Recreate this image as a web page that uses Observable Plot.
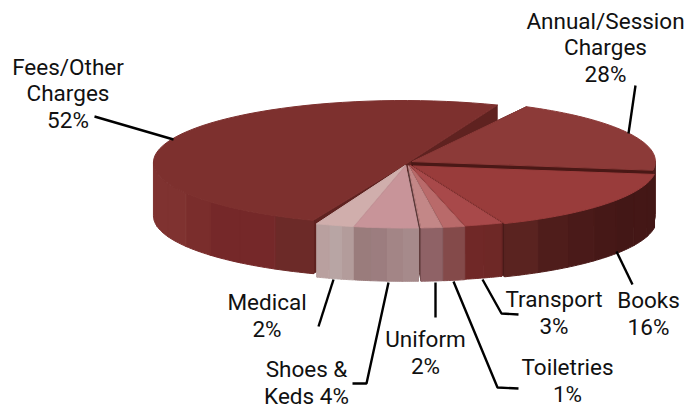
<!DOCTYPE html>
<html><head><meta charset="utf-8">
<script src="https://cdn.jsdelivr.net/npm/d3@7"></script>
<script src="https://cdn.jsdelivr.net/npm/@observablehq/plot@0.6"></script>
<style>html,body{margin:0;padding:0;background:#fff}svg{display:block}</style>
</head><body><div id="chart"></div>
<script>
// ---- data ----
const categories = ["Annual/Session\nCharges","Books","Transport","Toiletries","Uniform","Shoes &\nKeds","Medical","Fees/Other\nCharges"];
const printedPercent = [28,16,3,1,2,4,2,52];
// share of the ellipse each slice actually occupies in the drawing
const drawnShare = [19.4,16.7,2.5,1.4,1.4,4.2,2.5,51.9];

// ---- styling / layout (not data) ----
const topShade = ["#8c3a38","#993c3b","#a8494a","#b96a6a","#c38787","#c89499","#d0aeac","#7d302e"];
const sideShade = ["#4a1816","#4a1a18","#5f2220","#6b3533","#5e3a3a","#a58a8c","#a89292","#5f2220"];
const wallBands = [
  ["#4d1c1b"],
  ["#431716","#441716","#431716","#461817","#4a1a19","#4f1d1b","#5a2320"],
  ["#6e2826","#702827"],
  ["#844a4a"],
  ["#8f6266"],
  ["#a68a8b","#a38586","#9c7d7f","#9a7c7c"],
  ["#b39c9b","#b8a5a4","#b9a09f"],
  ["#6c2a28","#752829","#752829","#7a2d2c","#7f3230","#7f3230","#7f3230"]
];
const shiftX = [.016,.021,.008,.004,0,-.012,-.016,-.0206];
const shiftY = [.065,-.008,0,-.008,-.008,-.008,-.008,.048];
const apexY  = [0,0,0,0,0,0,0,-.048];
const widen  = [1,1,1,1,1,1,1,1.029];
const wallDepth = .86;
const X = [165,651], Y = [227,103];
const toX = px => (px - X[0]) / (X[1]-X[0]) * 2 - 1;
const toY = py => (py - Y[0]) / (Y[1]-Y[0]) * 2 - 1;

const pie = d3.pie().sort(null).value(d => d).startAngle(28*Math.PI/180).endAngle(388*Math.PI/180);
const arcs = pie(drawnShare);
const polys = []; let id = 0;
const poly = (pts, shade) => { id++; pts.forEach(p => polys.push({x:p[0], y:p[1], id, shade})); };

// paint order: farthest from the viewer first
const order = [7,0,1,2,3,4,6,5];
for (const i of order) {
  // clockwise from the top in d3.pie; convert to counter-clockwise from east
  let t0 = Math.PI/2 - arcs[i].startAngle, t1 = Math.PI/2 - arcs[i].endAngle;
  if (i === 7) t1 += 6*Math.PI/180;
  const dx = shiftX[i], dy = shiftY[i];
  const at = (t, drop=0) => [dx + widen[i]*Math.cos(t), dy + Math.sin(t) - drop];
  const apex = (drop=0) => [dx, dy + apexY[i] - drop];
  // radial side walls
  for (const t of [t0, t1]) poly([apex(), at(t), at(t,wallDepth), apex(wallDepth)], sideShade[i]);
  // outer wall: the front part of the arc only, split in flat bands
  const n = 2*Math.PI;
  const fronts = [];
  for (let k = -1; k <= 1; k++) {
    const a = Math.min(t0, k*n), b = Math.max(t1, -Math.PI + k*n);
    if (a > b) fronts.push([a,b]);
  }
  for (const [a,b] of fronts) {
    const bands = wallBands[i];
    bands.forEach((c,j) => {
      const s = a + (b-a)*j/bands.length, e = a + (b-a)*(j+1)/bands.length;
      const ts = d3.range(0,9).map(q => s + (e-s)*q/8);
      poly([...ts.map(t => at(t)), ...ts.slice().reverse().map(t => at(t,wallDepth))], c);
    });
  }
  // top surface
  const ts = d3.range(0,61).map(q => t0 + (t1-t0)*q/60);
  poly([apex(), ...ts.map(t => at(t))], topShade[i]);
}

const leaderPaths = [
  [[94,116],[173,139]],
  [[635,85],[628,133]],
  [[616,251],[632,284]],
  [[482,279],[501,313],[518,314]],
  [[453,281],[497,387],[518,388]],
  [[435,282],[435,317]],
  [[388,282],[366,383],[352,383]],
  [[333,279],[318,326]]
];
const leaders = leaderPaths.flatMap((p,k) => p.map(q => ({x:toX(q[0]), y:toY(q[1]), k})));

// label text built from the category names and printed percentages; anchor = last baseline
const labelAnchor = [[605,81],[648,334],[553.5,333],[567,401],[425,373],[306,403],[266.5,336],[67.5,127]];
const labels = categories.map((c,i) => ({
  t: c === "Shoes &\nKeds" ? `${c} ${printedPercent[i]}%` : `${c}\n${printedPercent[i]}%`,
  x: toX(labelAnchor[i][0]), y: toY(labelAnchor[i][1])
}));

const chart = Plot.plot({
  width:687, height:409, margin:0,
  style:{background:"#fff"},
  x:{type:"linear",domain:[-1,1],range:X,axis:null},
  y:{type:"linear",domain:[-1,1],range:Y,axis:null},
  color:{type:"identity"},
  marks:[
    Plot.line(polys,{x:"x",y:"y",z:"id",fill:"shade",stroke:"shade",strokeWidth:1,curve:"linear-closed"}),
    Plot.line(leaders,{x:"x",y:"y",z:"k",stroke:"#000",strokeWidth:2.4,strokeLinejoin:"miter",strokeLinecap:"butt"}),
    Plot.text(labels,{x:"x",y:"y",text:"t",fontSize:22.5,lineHeight:1.178,fill:"#111",fontFamily:"Roboto,sans-serif",textAnchor:"middle",lineAnchor:"bottom"})
  ]
});
document.getElementById("chart").append(chart);
</script></body></html>
